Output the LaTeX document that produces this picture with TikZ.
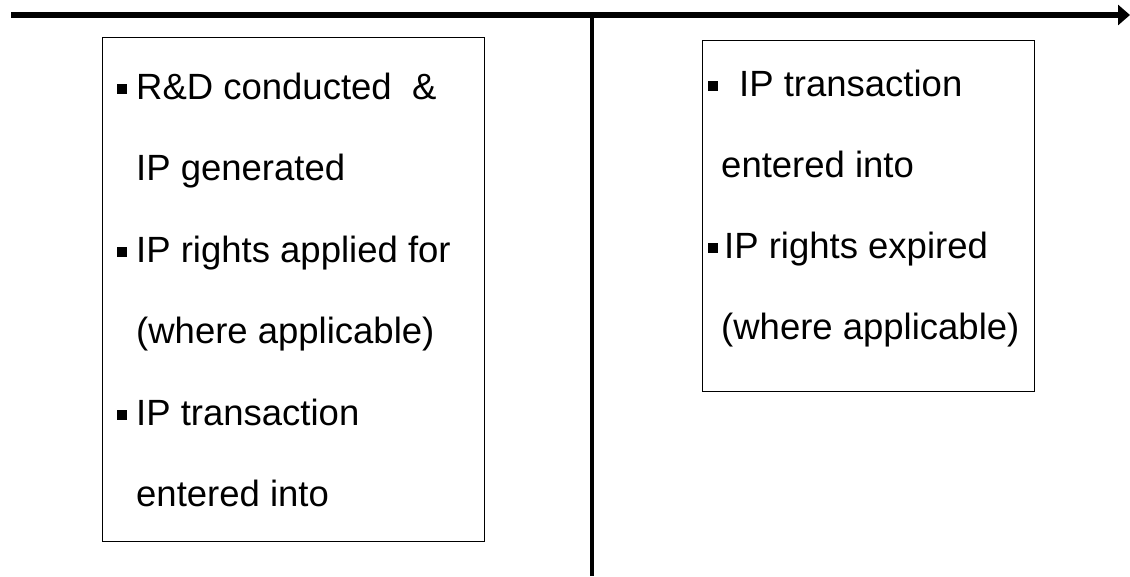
\documentclass[tikz,border=0pt]{standalone}
\usepackage{fontspec}
\setmainfont{Liberation Sans}
\usetikzlibrary{arrows.meta}

\tikzset{
  rowtext/.style={anchor=base west, inner sep=0pt, font=\fontsize{36.5}{40}\selectfont},
  sqbullet/.style={fill=black, minimum size=10.5pt, inner sep=0pt},
  infobox/.style={draw=black, line width=1.4pt, anchor=north west, inner sep=0pt},
}

\begin{document}
\begin{tikzpicture}[x=1pt,y=-1pt]
    \useasboundingbox (0,0) rectangle (1130,576);

    % Time axis and the cut between the two periods
    \coordinate (axisstart) at (11,15);
    \coordinate (axisend) at (1130,15);
    \coordinate (cuttop) at (592,15);
    \coordinate (cutfoot) at (592,576);
    \draw[line width=6pt, -{Triangle[length=12pt,width=20pt]}] (axisstart) -- (axisend);
    \draw[line width=4.5pt] (cuttop) -- (cutfoot);

    % Earlier period
    \node[infobox, minimum width=382pt, minimum height=504pt] (before) at (102,37) {};
    \foreach \n/\y/\t in {1/99/{R\&D conducted \ \&}, 2/180.5/{IP generated},
                          3/262/{IP rights applied for}, 4/343.5/{(where applicable)},
                          5/425/{IP transaction}, 6/506.5/{entered into}}
        \node[rowtext] (left\n) at (136,\y) {\t};
    \node[sqbullet] (leftdot1) at (122,89) {};
    \node[sqbullet] (leftdot3) at (122,252) {};
    \node[sqbullet] (leftdot5) at (122,415) {};

    % Later period
    \node[infobox, minimum width=332pt, minimum height=351pt] (after) at (702,40) {};
    \node[rowtext] (right1) at (739,96) {IP transaction};
    \node[rowtext] (right2) at (721,177) {entered into};
    \node[rowtext] (right3) at (724,258) {IP rights expired};
    \node[rowtext] (right4) at (721,339) {(where applicable)};
    \node[sqbullet] (rightdot1) at (713,86) {};
    \node[sqbullet] (rightdot3) at (713,248) {};
\end{tikzpicture}
\end{document}
